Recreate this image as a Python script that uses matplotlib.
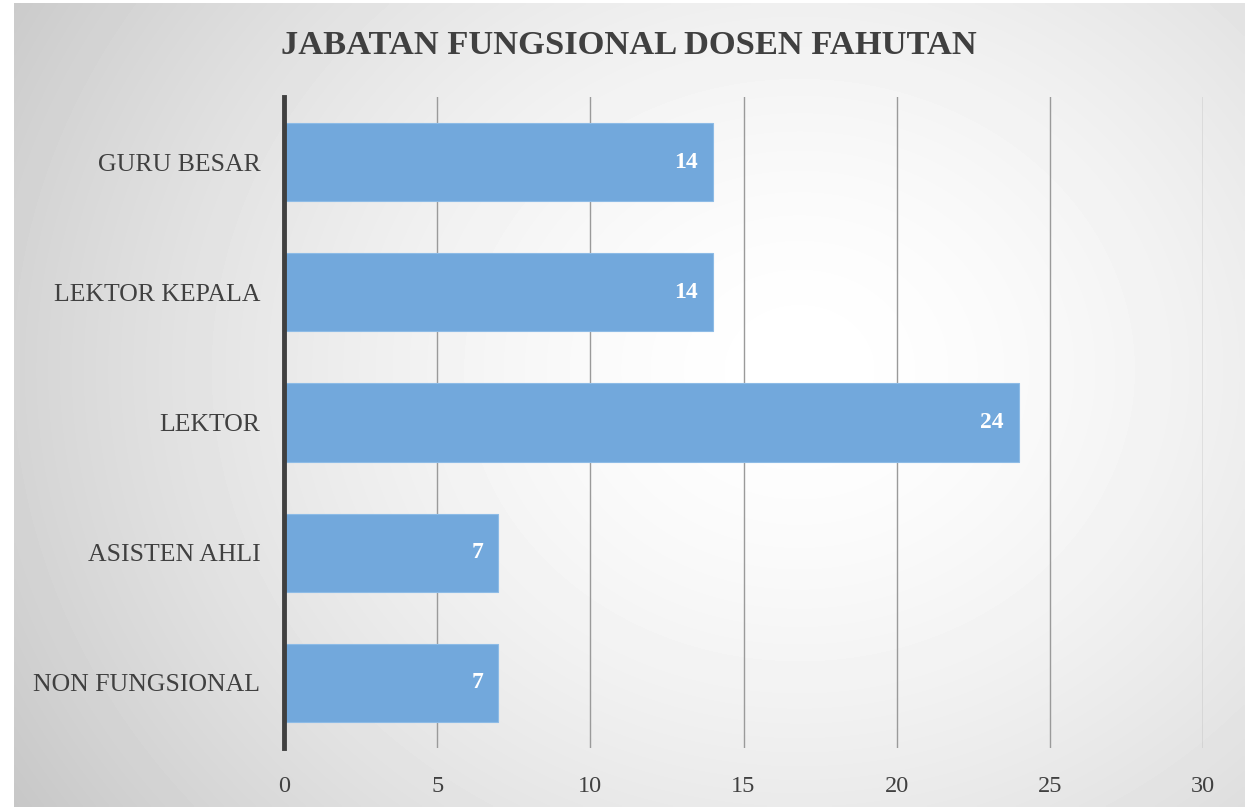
import numpy as np
import matplotlib
matplotlib.use("Agg")
import matplotlib.pyplot as plt

categories = ["NON FUNGSIONAL", "ASISTEN AHLI", "LEKTOR", "LEKTOR KEPALA", "GURU BESAR"]
values = [7, 7, 24, 14, 14]
xticks = [0, 5, 10, 15, 20, 25, 30]
title = "JABATAN FUNGSIONAL DOSEN FAHUTAN"

W, H = 1245, 807
fig = plt.figure(figsize=(W / 100, H / 100), dpi=100)
fig.patch.set_facecolor("white")

# radial gradient background panel
bx0, by1 = 14, 3
bg = fig.add_axes([bx0 / W, 0, 1 - bx0 / W, 1 - by1 / H], zorder=0)
nx, ny = 400, 260
xx, yy = np.meshgrid(np.linspace(bx0, W, nx), np.linspace(by1, H, ny))
cx, cy = 800, 370
r = np.sqrt((xx - cx) ** 2 + ((yy - cy) * 1.15) ** 2)
r = r / r.max()
shade = 1.0 - 0.22 * np.clip(r, 0, 1) ** 1.6
bg.imshow(shade, cmap="gray", vmin=0, vmax=1, aspect="auto",
          extent=[0, 1, 0, 1], interpolation="bilinear")
bg.set_axis_off()

font = "Liberation Serif"
ax = fig.add_axes([284 / W, 59 / H, (1203 - 284) / W, (748 - 97) / H], zorder=1)
ax.patch.set_alpha(0)
y = np.arange(len(categories))
bars = ax.barh(y, values, height=0.6, color="#72a8dc", edgecolor="#8dbbe6",
               linewidth=0.8, zorder=3)
for yi, v in zip(y, values):
    ax.text(v - 0.5, yi, str(v), ha="right", va="center", color="white",
            fontsize=17, fontweight="bold", family=font, zorder=4)

ax.set_xlim(0, 30)
ax.set_ylim(-0.5, len(categories) - 0.5)
ax.set_xticks(xticks)
ax.set_xticklabels([str(t) for t in xticks], family=font, fontsize=17.5, color="#404040")
ax.set_yticks(y)
ax.set_yticklabels(categories, family=font, fontsize=18.5, color="#404040")
ax.tick_params(axis="both", length=0)
ax.tick_params(axis="x", pad=20)
ax.tick_params(axis="y", pad=17)
ax.xaxis.grid(True, color="#9a9a9a", linewidth=1.0, zorder=1)
ax.set_axisbelow(True)
for s in ["top", "right", "bottom"]:
    ax.spines[s].set_visible(False)
ax.spines["left"].set_color("#404040")
ax.spines["left"].set_linewidth(3.5)
ax.spines["left"].set_zorder(5)

fig.text(629 / W, 1 - 45 / H, title, ha="center", va="center", family=font,
         fontsize=24.8, fontweight="bold", color="#404040")

fig.savefig("out.png", dpi=100)
